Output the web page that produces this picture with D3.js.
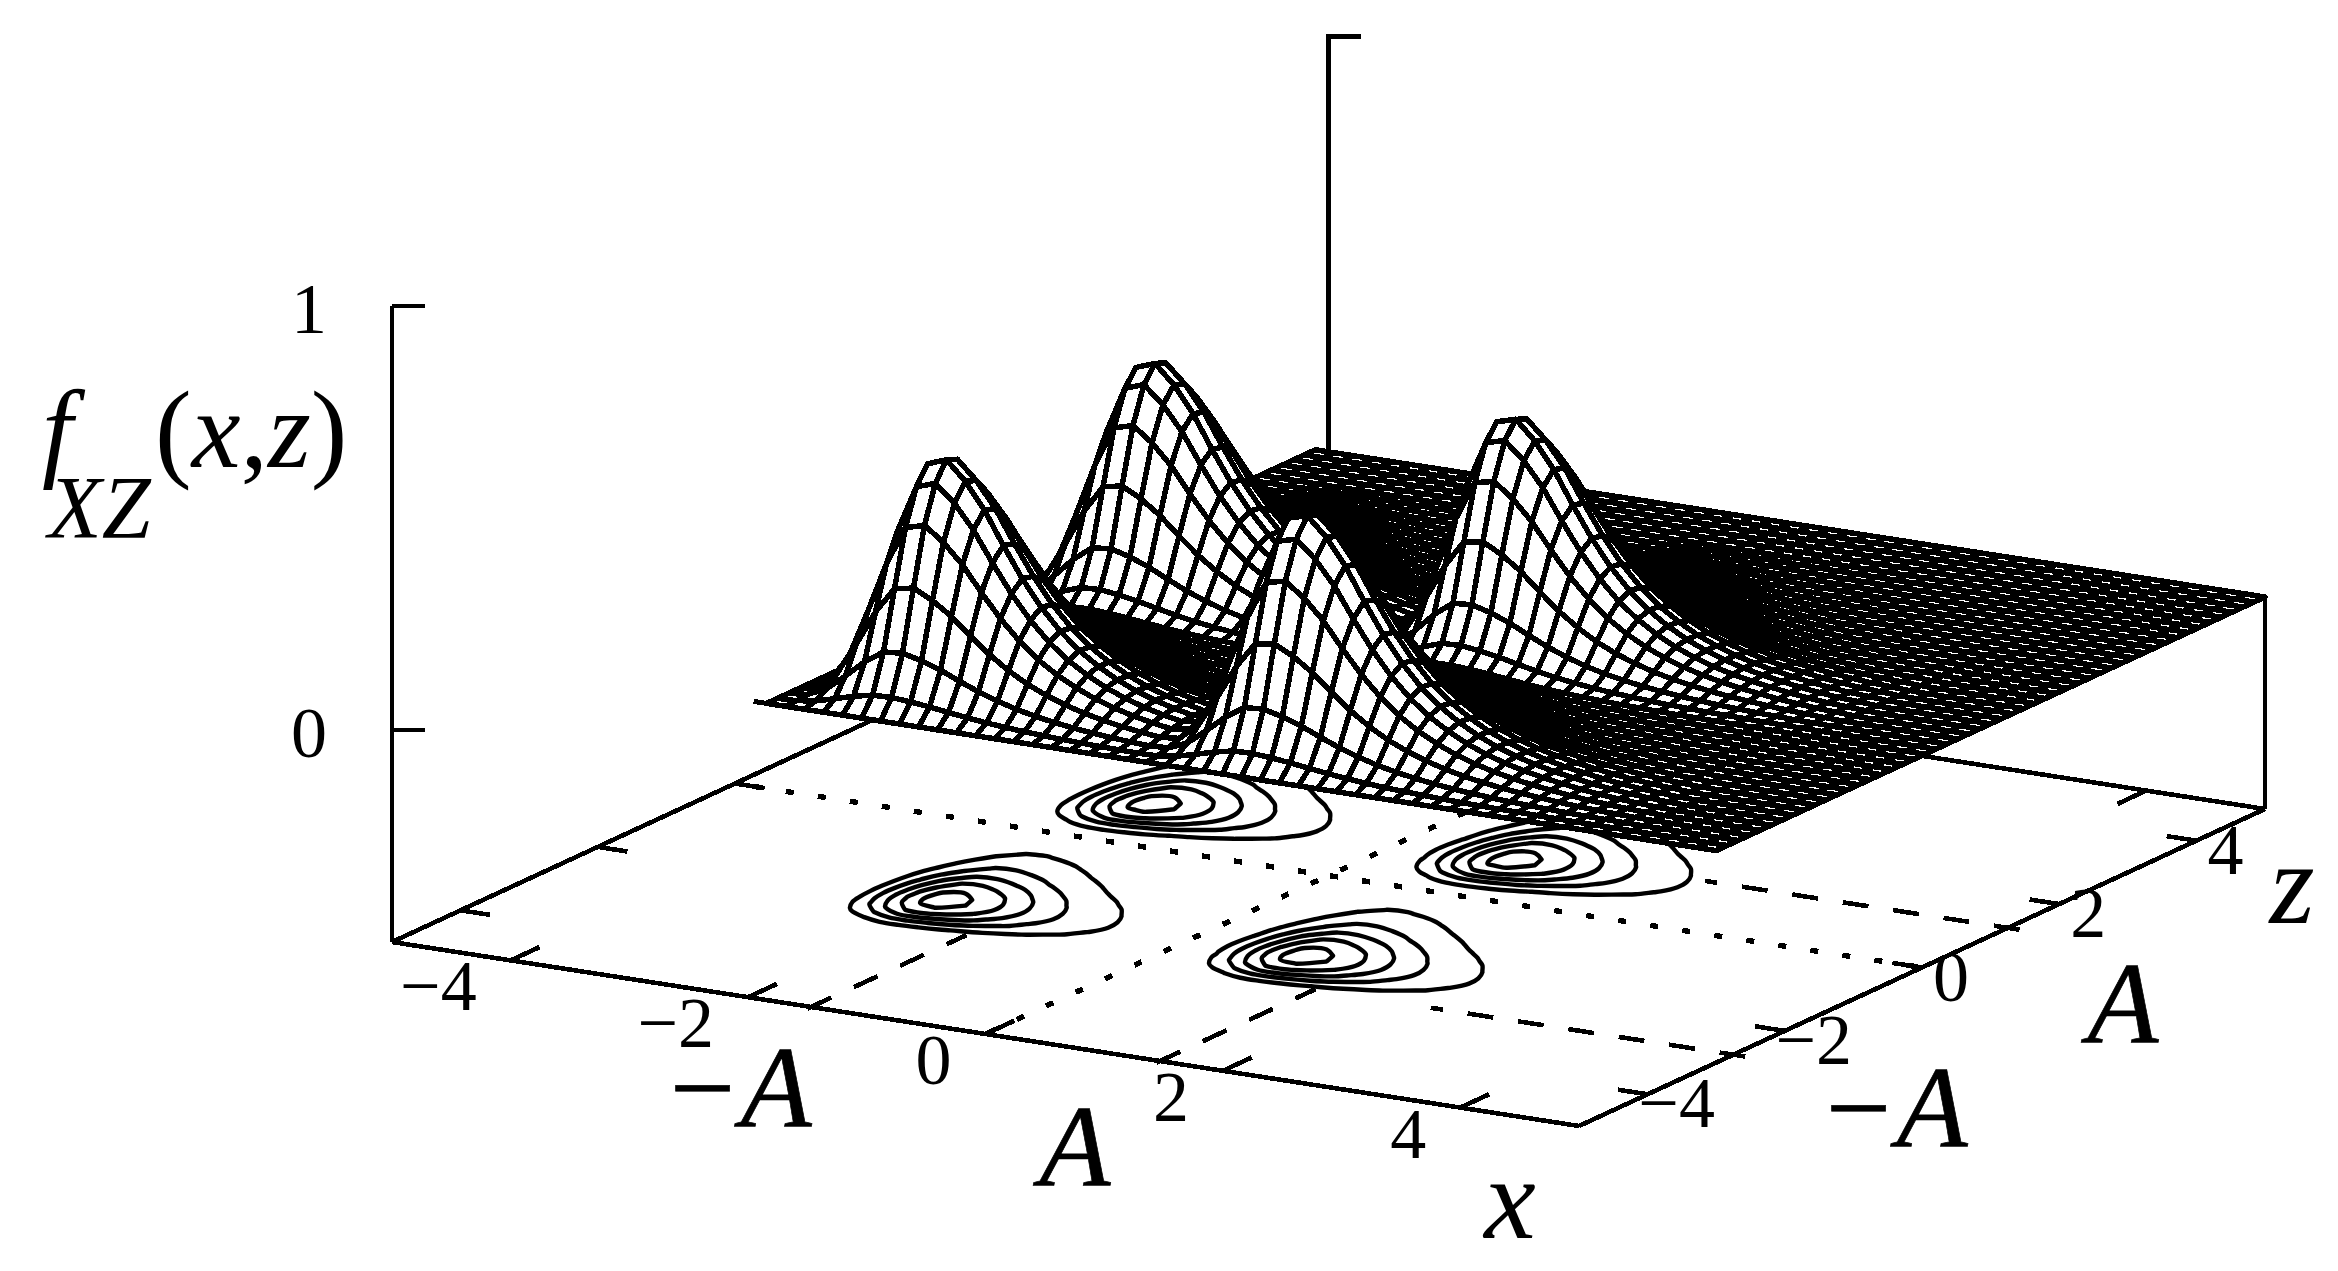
<!DOCTYPE html>
<html>
<head>
<meta charset="utf-8">
<script src="https://cdn.jsdelivr.net/npm/d3@7"></script>
<style>
  html, body { margin: 0; background: #fff; }
  text { font-family: "Liberation Serif", serif; fill: #000; }
</style>
</head>
<body>
<svg id="chart" width="2338" height="1271"></svg>
<script>
// relative profile along x, one value per mesh node
const xProfile = [
  0, 0.03, 0.18, 0.45, 0.74, 0.96, 0.99, 0.91, 0.80, 0.66,
  0.53, 0.42, 0.33, 0.26, 0.205, 0.16, 0.125, 0.097, 0.075, 0.057,
  0.073, 0.21, 0.47, 0.752, 0.967, 0.99, 0.91, 0.80, 0.66, 0.53,
  0.42, 0.33, 0.26, 0.205, 0.16, 0.125, 0.097, 0.075, 0.057, 0.043,
  0.03, 0.02, 0.012, 0.007, 0.002, 0, 0, 0, 0, 0, 0
];
// same along z
const zProfile = [
  0, 0.08, 0.25, 0.51, 0.76, 0.92, 1, 0.98, 0.90, 0.78,
  0.64, 0.50, 0.40, 0.31, 0.245, 0.19, 0.15, 0.115, 0.09, 0.068,
  0.13, 0.285, 0.535, 0.775, 0.93, 1, 0.98, 0.90, 0.78, 0.64,
  0.50, 0.40, 0.31, 0.245, 0.19, 0.15, 0.115, 0.09, 0.068, 0.05,
  0.035, 0.025, 0.015, 0.01, 0.005, 0, 0, 0, 0, 0, 0
];
const peakHeight = 0.55;
const contourLevels = [0.1, 0.2, 0.3, 0.4, 0.5];

const xTicks = [-4, -2, 0, 2, 4];
const zTicks = [-4, -2, 0, 2, 4];
const fTicks = [0, 1];
const xMarks = [-1.47, 1.47];   // the -A / A lines on x
const zMarks = [-2.75, 1.25];   // the -A / A lines on z

const minus = "\u2212";

// projection of the box
const xPx = d3.scaleLinear([-5, 5], [0, 1187]);
const xPy = d3.scaleLinear([-5, 5], [0, 184]);
const zPx = d3.scaleLinear([-5, 5], [0, 686]);
const zPy = d3.scaleLinear([-5, 5], [0, -317]);
const fPy = d3.scaleLinear([0, 1], [730, 306]);
const fBase = -0.5;

const project = (x, z, f) => [392 + xPx(x) + zPx(z), fPy(f) + xPy(x) + zPy(z)];

// mesh nodes
const n = xProfile.length;
const xNode = d3.scaleLinear([0, n - 1], [-3, 5]);
const zNode = d3.scaleLinear([0, n - 1], [-3, 5]);
const surfaceF = (i, j) => peakHeight * xProfile[i] * zProfile[j];

const svg = d3.select("#chart");
const line = d3.line();

const seg = (parent, a, b, width) =>
  parent.append("path")
    .attr("d", line([a, b]))
    .attr("fill", "none")
    .attr("stroke", "black")
    .attr("stroke-width", width);

const floor = svg.append("g").attr("shape-rendering", "crispEdges");

// box edges on the floor
seg(floor, project(-5, -5, fBase), project(5, -5, fBase), 4.6);
seg(floor, project(5, -5, fBase), project(5, 5, fBase), 4.6);
seg(floor, project(-5, -5, fBase), project(-5, 5, fBase), 4.6);
seg(floor, project(-5, 5, fBase), project(5, 5, fBase), 4.6);

// ticks, front and mirrored
xTicks.forEach((t) => {
  seg(floor, project(t, -5, fBase), project(t, -4.58, fBase), 4.6);
  seg(floor, project(t, 5, fBase), project(t, 4.58, fBase), 4.6);
});
zTicks.forEach((t) => {
  seg(floor, project(5, t, fBase), project(4.75, t, fBase), 4.6);
  seg(floor, project(-5, t, fBase), project(-4.75, t, fBase), 4.6);
});

// dashed -A / A lines
const dashed = (a, b) => seg(floor, a, b, 4.6).attr("stroke-dasharray", "26 25");
xMarks.forEach((t) => dashed(project(t, -5.05, fBase), project(t, -2.73, fBase)));
zMarks.forEach((t) => dashed(project(5.1, t, fBase), project(2.45, t, fBase)));

// dotted zero lines
const dotted = (a, b, offset) =>
  seg(floor, a, b, 5.4).attr("stroke-dasharray", "8 24.4").attr("stroke-dashoffset", offset);
dotted(project(0, -5, fBase), project(0, 5, fBase), -2);
dotted(project(-5, 0, fBase), project(5, 0, fBase), -19);

// back post with its top tick
const postX = -2.89;
const postF = 0.979;
seg(floor, project(postX, 5, 0), project(postX, 5, postF), 4.6);
const postTop = project(postX, 5, postF);
seg(floor, [postTop[0] - 2, postTop[1]], [postTop[0] + 33, postTop[1]], 5);

// contours on the floor
const values = [];
for (let j = 0; j < n; j++) for (let i = 0; i < n; i++) values.push(surfaceF(i, j));
const cellX = d3.scaleLinear([0.5, n - 0.5], xNode.range());
const cellZ = d3.scaleLinear([0.5, n - 0.5], zNode.range());
const contours = d3.contours().size([n, n]).thresholds(contourLevels)(values);
const contourLine = d3.line().curve(d3.curveCatmullRomClosed);
const contourPath = (c) =>
  c.coordinates.map((poly) =>
    poly.map((ring) => contourLine(ring.map((p) => project(cellX(p[0]), cellZ(p[1]), fBase)))).join("")
  ).join("");
svg.append("g")
  .attr("fill", "none")
  .attr("stroke", "black")
  .attr("stroke-width", 4.4)
  .attr("stroke-linejoin", "round")
  .selectAll("path")
  .data(contours)
  .join("path")
  .attr("d", contourPath);

// surface, painted from the back corner to the front
const quads = [];
for (let i = 0; i < n - 1; i++) {
  for (let j = n - 2; j >= 0; j--) quads.push([i, j]);
}
svg.append("g")
  .attr("fill", "white")
  .attr("stroke", "black")
  .attr("stroke-width", 5.5)
  .attr("stroke-linejoin", "round")
  .attr("shape-rendering", "crispEdges")
  .selectAll("path")
  .data(quads)
  .join("path")
  .attr("d", ([i, j]) => line([
    project(xNode(i), zNode(j), surfaceF(i, j)),
    project(xNode(i + 1), zNode(j), surfaceF(i + 1, j)),
    project(xNode(i + 1), zNode(j + 1), surfaceF(i + 1, j + 1)),
    project(xNode(i), zNode(j + 1), surfaceF(i, j + 1))
  ]) + "Z");

// box posts in front
const posts = svg.append("g").attr("shape-rendering", "crispEdges");
seg(posts, project(-5, -5, fBase), project(-5, -5, 1), 4.6);
seg(posts, project(5, 5, fBase), project(5, 5, 0), 4.6);
fTicks.forEach((t) => {
  const p = project(-5, -5, t);
  seg(posts, [p[0], p[1]], [p[0] + 33, p[1]], 4.6);
});
// small barb left of the mesh corner
seg(posts, project(-3.11, -3, 0), project(-3, -3, 0), 5);

// tick labels
const labels = svg.append("g").attr("font-size", 72);
const tickText = (t) => (t < 0 ? minus + Math.abs(t) : String(t));
xTicks.forEach((t) => {
  const p = project(t, -5, fBase);
  labels.append("text").attr("x", p[0] - 34).attr("y", p[1] + 50)
    .attr("text-anchor", "end").text(tickText(t));
});
zTicks.forEach((t) => {
  const p = project(5, t, fBase);
  labels.append("text").attr("x", p[0] + 29).attr("y", p[1] + 33)
    .attr("text-anchor", "middle").text(tickText(t));
});
fTicks.forEach((t) => {
  const p = project(-5, -5, t);
  labels.append("text").attr("x", 309).attr("y", p[1] + 27)
    .attr("text-anchor", "middle").text(t);
});

// -A, A, x, z
const big = svg.append("g").attr("font-size", 116).attr("font-style", "italic").attr("stroke", "black");
const bigLabels = [
  { t: minus + "A", x: 737, y: 1127, w: 0.7 },
  { t: "A", x: 1075, y: 1186, w: 0.7 },
  { t: "x", x: 1510, y: 1238, w: 0 },
  { t: "A", x: 2123, y: 1043, w: 0.7 },
  { t: minus + "A", x: 1893, y: 1147, w: 0.7 },
  { t: "z", x: 2292, y: 923, w: 0 }
];
bigLabels.forEach((d) => {
  big.append("text").attr("x", d.x).attr("y", d.y).attr("stroke-width", d.w)
    .attr("text-anchor", "middle").text(d.t);
});

// f_XZ(x,z)
const heading = svg.append("g").attr("font-size", 110);
heading.append("text").attr("x", 42).attr("y", 467).attr("font-style", "italic").text("f");
heading.append("text").attr("x", 48).attr("y", 537).attr("font-size", 88).attr("font-style", "italic").text("XZ");
const args = heading.append("text").attr("x", 155).attr("y", 467);
args.append("tspan").text("(");
args.append("tspan").attr("font-style", "italic").text("x");
args.append("tspan").text(",");
args.append("tspan").attr("font-style", "italic").text("z");
args.append("tspan").text(")");
</script>
</body>
</html>
